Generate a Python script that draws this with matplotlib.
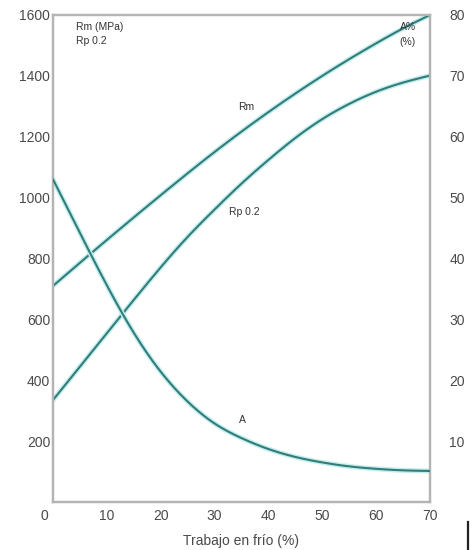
import matplotlib
matplotlib.use("Agg")
import matplotlib.pyplot as plt
import numpy as np
from matplotlib.lines import Line2D
from matplotlib.transforms import ScaledTranslation

plt.rcParams['font.family'] = ['Liberation Sans', 'DejaVu Sans']

# Cold work (%)
work = [0, 5, 10, 15, 20, 25, 30, 35, 40, 45, 50, 55, 60, 65, 70]
# Tensile strength Rm (MPa)
rm = [710, 786, 861, 935, 1008, 1080, 1150, 1217, 1281, 1342, 1400, 1455, 1507, 1556, 1600]
# Yield strength Rp 0.2 (MPa)
rp02 = [335, 445, 555, 664, 771, 871, 961, 1046, 1124, 1196, 1258, 1308, 1348, 1378, 1401]
# Elongation A (%)
elong = [53, 44.2, 35.6, 27.8, 21.4, 16.5, 12.9, 10.5, 8.7, 7.4, 6.5, 5.85, 5.45, 5.2, 5.1]

x_ticks = [0, 10, 20, 30, 40, 50, 60, 70]
left_ticks = [200, 400, 600, 800, 1000, 1200, 1400, 1600]
right_ticks = [10, 20, 30, 40, 50, 60, 70, 80]

dark = '#327c79'
halo = '#c4eeee'
grey_txt = '#4a4a4a'
spine_c = '#b4b4b4'


def natural_spline(x, y, n=400):
    """Natural cubic spline through the given points."""
    x = np.asarray(x, float); y = np.asarray(y, float)
    k = len(x); h = np.diff(x)
    A = np.zeros((k, k)); b = np.zeros(k)
    A[0, 0] = A[-1, -1] = 1
    for i in range(1, k-1):
        A[i, i-1] = h[i-1]; A[i, i] = 2*(h[i-1]+h[i]); A[i, i+1] = h[i]
        b[i] = 3*((y[i+1]-y[i])/h[i] - (y[i]-y[i-1])/h[i-1])
    c = np.linalg.solve(A, b)
    bb = (y[1:]-y[:-1])/h - h*(2*c[:-1]+c[1:])/3
    d = (c[1:]-c[:-1])/(3*h)
    xs = np.linspace(x[0], x[-1], n)
    idx = np.clip(np.searchsorted(x, xs) - 1, 0, k-2)
    t = xs - x[idx]
    ys = y[idx] + bb[idx]*t + c[idx]*t**2 + d[idx]*t**3
    return xs, ys


fig = plt.figure(figsize=(4.74, 5.50), dpi=100)
ax = fig.add_axes([53/474, 1-502/550, (430-53)/474, (502-15)/550])
ax2 = ax.twinx()

for a, ys in [(ax, rm), (ax, rp02), (ax2, elong)]:
    sx, sy = natural_spline(work, ys)
    a.plot(sx, sy, color=halo, lw=3.6, solid_capstyle='round', zorder=2)
    a.plot(sx, sy, color=dark, lw=1.5, solid_capstyle='round', zorder=3)

ax.set_xlim(0, 70)
ax.set_ylim(0, 1600)
ax2.set_ylim(0, 80)

ax.set_xticks(x_ticks)
ax.set_yticks(left_ticks)
ax2.set_yticks(right_ticks)

ax.tick_params(axis='x', length=0, pad=5, labelsize=10, colors=grey_txt)
ax.tick_params(axis='y', length=0, pad=2, labelsize=10, colors=grey_txt)
ax2.tick_params(axis='y', length=0, pad=14, labelsize=10, colors=grey_txt)

for a in (ax, ax2):
    for s in a.spines.values():
        s.set_color(spine_c)
        s.set_linewidth(1.6)

ax.set_xlabel('Trabajo en frío (%)', fontsize=10, color=grey_txt, labelpad=8)

fs = 7.5
ax.text(4.3, 1560, 'Rm (MPa)', fontsize=fs, color='#333333', va='center', ha='left')
ax.text(4.3, 1514, 'Rp 0.2', fontsize=fs, color='#333333', va='center', ha='left')
ax.text(65.9, 1562, 'A%', fontsize=fs, color='#333333', va='center', ha='center')
ax.text(65.9, 1511, '(%)', fontsize=fs, color='#333333', va='center', ha='center')
ax.text(35.8, 1297, 'Rm', fontsize=fs, color='#333333', va='center', ha='center')
ax.text(35.6, 953, 'Rp 0.2', fontsize=fs, color='#333333', va='center', ha='center')
ax.text(35.1, 269, 'A', fontsize=fs, color='#333333', va='center', ha='center')

# nudge the "0" label left of the spine
fig.canvas.draw()
zero = ax.get_xticklabels()[0]
zero.set_transform(zero.get_transform() + ScaledTranslation(-9/100, 0, fig.dpi_scale_trans))

fig.add_artist(Line2D([468/474, 468/474], [1-522/550, 1-549/550],
                      transform=fig.transFigure, color='#222222', lw=1.6))

fig.savefig('out.png', dpi=100)
